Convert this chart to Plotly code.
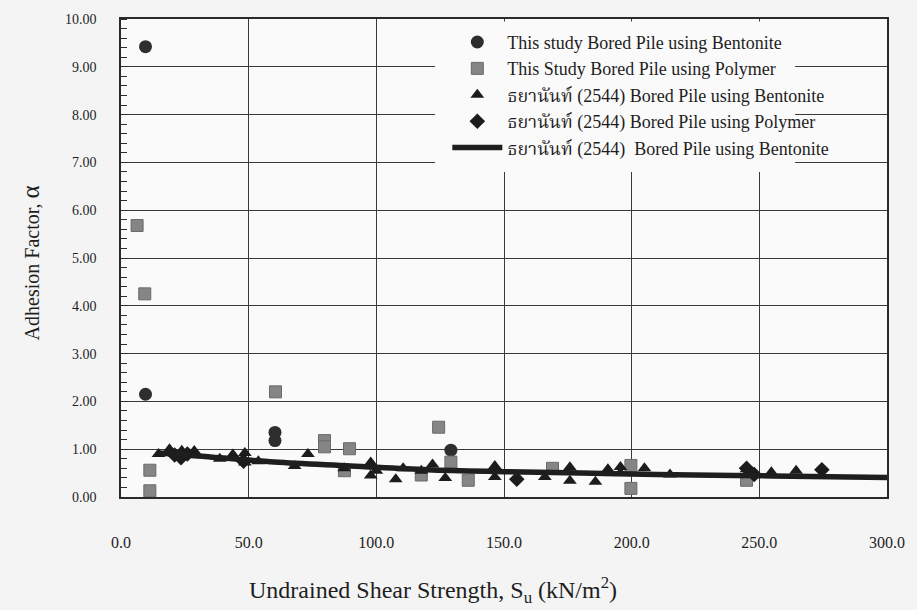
import plotly.graph_objects as go

# --- This study: bored piles constructed with bentonite slurry ---
study_bent_su = [9.6, 9.6, 60.3, 60.3, 129.2]
study_bent_alpha = [9.42, 2.15, 1.35, 1.18, 0.98]

# --- This study: bored piles constructed with polymer slurry ---
study_poly_su = [6.3, 9.3, 11.3, 11.3, 60.5, 79.7, 79.7, 89.5, 87.5, 117.6,
                 124.4, 129.2, 136.0, 169.0, 199.7, 199.7, 245.0]
study_poly_alpha = [5.68, 4.25, 0.56, 0.13, 2.20, 1.18, 1.05, 1.01, 0.55, 0.46,
                    1.46, 0.73, 0.35, 0.60, 0.66, 0.18, 0.35]

# --- ธยานันท์ (2544): bentonite ---
ref_bent_su = [14.7, 19.0, 23.8, 28.7, 38.7, 43.8, 48.5, 48.5, 53.8, 68.0,
               73.2, 87.4, 97.8, 97.8, 100.0, 107.6, 110.5, 117.6, 122.0, 127.0,
               146.4, 146.4, 166.0, 175.8, 175.8, 185.8, 190.7, 195.6, 195.6, 205.0,
               215.0, 245.0, 254.7, 264.4]
ref_bent_alpha = [0.90, 1.00, 0.97, 0.96, 0.80, 0.89, 0.92, 0.72, 0.75, 0.65,
                  0.90, 0.60, 0.72, 0.45, 0.55, 0.37, 0.60, 0.55, 0.68, 0.40,
                  0.65, 0.42, 0.42, 0.62, 0.34, 0.32, 0.58, 0.63, 0.50, 0.60,
                  0.47, 0.58, 0.52, 0.55]

# --- ธยานันท์ (2544): polymer ---
ref_poly_su = [21.0, 23.5, 26.0, 48.0, 155.0, 245.0, 248.0, 274.5]
ref_poly_alpha = [0.88, 0.82, 0.90, 0.75, 0.37, 0.60, 0.47, 0.57]

# --- ธยานันท์ (2544): design curve for bentonite ---
curve_su = [15, 30, 60, 90, 120, 150, 180, 210, 240, 270, 300]
curve_alpha = [0.92, 0.86, 0.73, 0.65, 0.57, 0.53, 0.50, 0.47, 0.45, 0.43, 0.41]

x_ticks = [0, 50, 100, 150, 200, 250, 300]
y_ticks = [0, 1, 2, 3, 4, 5, 6, 7, 8, 9, 10]

SERIF = "Liberation Serif, Times New Roman, Noto Serif Thai, Noto Sans Thai, Loma, Garuda, serif"
INK = "#1e1e1e"
PLOT_BG = "#fafafa"

fig = go.Figure()

fig.add_trace(go.Scatter(
    x=study_bent_su, y=study_bent_alpha, mode="markers",
    name="This study Bored Pile using Bentonite",
    marker=dict(symbol="circle", size=13, color="#2e2e2e"),
))
fig.add_trace(go.Scatter(
    x=study_poly_su, y=study_poly_alpha, mode="markers",
    name="This Study Bored Pile using Polymer",
    marker=dict(symbol="square", size=12, color="#858585",
                line=dict(color="#6a6a6a", width=1)),
))
fig.add_trace(go.Scatter(
    x=ref_bent_su, y=ref_bent_alpha, mode="markers",
    name="ธยานันท์ (2544) Bored Pile using Bentonite",
    marker=dict(symbol="triangle-up", size=12, color="#1c1c1c"),
))
fig.add_trace(go.Scatter(
    x=ref_poly_su, y=ref_poly_alpha, mode="markers",
    name="ธยานันท์ (2544) Bored Pile using Polymer",
    marker=dict(symbol="diamond", size=12, color="#1c1c1c"),
))
fig.add_trace(go.Scatter(
    x=curve_su, y=curve_alpha, mode="lines",
    name="ธยานันท์ (2544)  Bored Pile using Bentonite",
    line=dict(color=INK, width=5.5, shape="spline"),
))

# opaque legend panel covering the grid; the legend itself is drawn on top of it
fig.add_shape(type="rect", xref="paper", yref="paper",
              x0=0.41, x1=0.88, y0=0.68, y1=0.995,
              fillcolor=PLOT_BG, line=dict(width=0), layer="above")

fig.update_layout(
    width=917, height=610,
    margin=dict(l=121, r=22, t=15, b=113),
    paper_bgcolor="#f4f4f4",
    plot_bgcolor=PLOT_BG,
    font=dict(family=SERIF, color=INK, size=14),
    showlegend=True,
    legend=dict(
        x=0.426, y=0.99, xanchor="left", yanchor="top",
        bgcolor="rgba(0,0,0,0)", borderwidth=0,
        font=dict(family=SERIF, size=18, color=INK),
        tracegroupgap=0, itemsizing="trace", itemwidth=50,
    ),
    xaxis=dict(
        range=[0, 300], tickvals=x_ticks,
        ticktext=[f"{v:.1f}" for v in x_ticks],
        showgrid=True, gridcolor="#3a3a3a", gridwidth=1,
        zeroline=False, showline=True, linecolor="#2a2a2a", linewidth=1.5,
        mirror=True, ticks="", ticklabelstandoff=30,
        tickfont=dict(size=16),
    ),
    yaxis=dict(
        range=[0, 10], tickvals=y_ticks,
        ticktext=[f"{v:.2f}" for v in y_ticks],
        showgrid=True, gridcolor="#3a3a3a", gridwidth=1,
        zeroline=False, showline=True, linecolor="#2a2a2a", linewidth=1.5,
        mirror=True, ticks="", ticklabelstandoff=20,
        minor=dict(dtick=0.2, ticks="inside", ticklen=6, tickcolor="#2a2a2a",
                   showgrid=False),
        tickfont=dict(size=14),
    ),
    annotations=[
        dict(text="Undrained Shear Strength, S<sub>u</sub> (kN/m<sup>2</sup>)",
             xref="paper", yref="paper", x=0.407, y=-0.195,
             xanchor="center", yanchor="middle", showarrow=False,
             font=dict(family=SERIF, size=24, color=INK)),
        dict(text="Adhesion Factor, <span style='font-size:25px'>α</span>",
             xref="paper", yref="paper", x=-0.118, y=0.49,
             xanchor="center", yanchor="middle", showarrow=False, textangle=-90,
             font=dict(family=SERIF, size=20, color=INK)),
    ],
)

fig.write_html("out.html")
